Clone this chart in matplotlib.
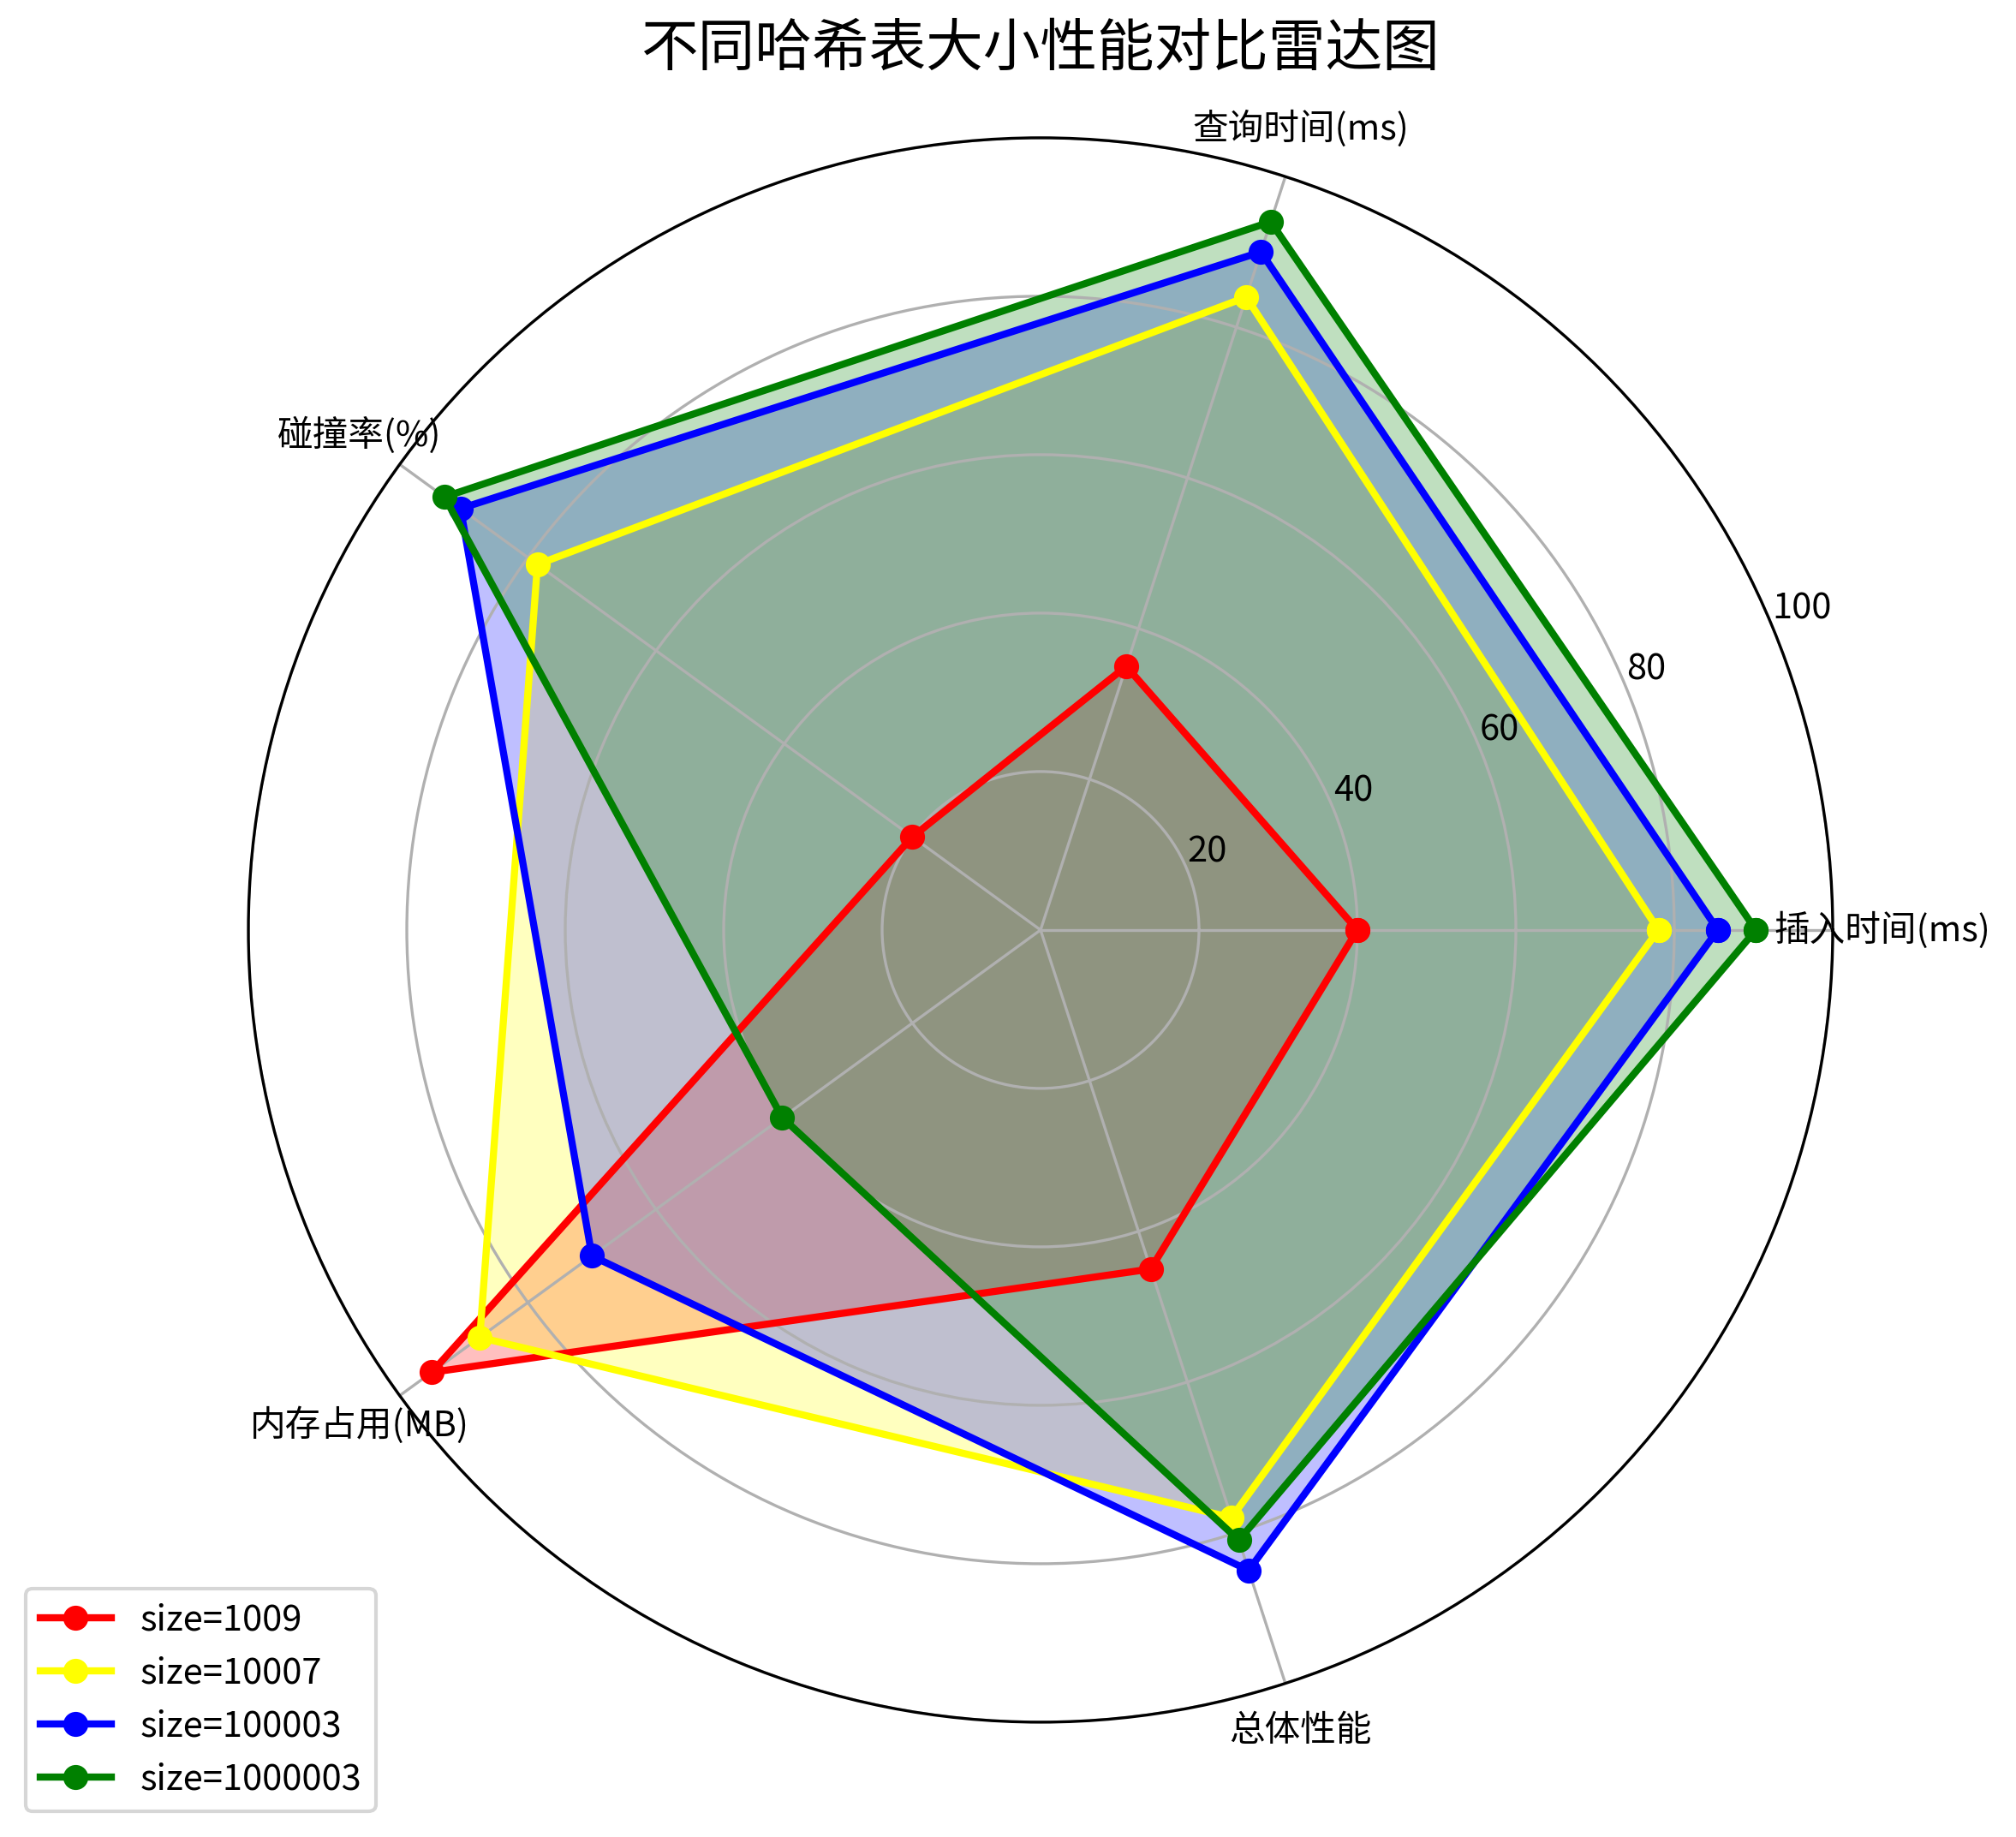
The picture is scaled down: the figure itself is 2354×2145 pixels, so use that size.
import numpy as np
import matplotlib
matplotlib.use("Agg")
import matplotlib.pyplot as plt

plt.rcParams["font.family"] = ["Noto Sans CJK SC", "DejaVu Sans"]

# metrics shown on the radar axes
categories = ["插入时间(ms)", "查询时间(ms)", "碰撞率(%)", "内存占用(MB)", "总体性能"]

# normalised scores per table size
size_labels = ["size=1009", "size=10007", "size=100003", "size=1000003"]
scores_1009 = [40, 35, 20, 95, 45]
scores_10007 = [78, 84, 78.5, 87.5, 78]
scores_100003 = [85.5, 90, 90.5, 70, 85]
scores_1000003 = [90.3, 94, 93, 40.3, 81]
series_colors = ["red", "yellow", "blue", "green"]

r_ticks = [20, 40, 60, 80, 100]


def main():
    all_scores = [scores_1009, scores_10007, scores_100003, scores_1000003]

    n = len(categories)
    angles = np.linspace(0, 2 * np.pi, n, endpoint=False).tolist()
    angles += angles[:1]

    fig = plt.figure(figsize=(2354 / 300, 2145 / 300), dpi=300)
    ax = fig.add_axes([0.1232, 0.0625, 0.7859, 0.8625], polar=True)

    for label, vals, col in zip(size_labels, all_scores, series_colors):
        vals = list(vals) + vals[:1]
        ax.plot(angles, vals, "o-", color=col, linewidth=2, label=label)
        ax.fill(angles, vals, color=col, alpha=0.25)

    ax.set_xticks(angles[:-1])
    ax.set_xticklabels(categories, fontsize=10)
    ax.set_ylim(0, 100)
    ax.set_yticks(r_ticks)
    ax.set_yticklabels([str(t) for t in r_ticks], fontsize=10)

    ax.legend(loc="lower left", bbox_to_anchor=(0.0127, 0.014),
              bbox_transform=fig.transFigure, borderaxespad=0, fontsize=10)

    fig.suptitle("不同哈希表大小性能对比雷达图", fontsize=16,
                 x=0.516, y=1 - 58 / 2145, va="center")

    fig.savefig("out.png", dpi=300)


if __name__ == "__main__":
    main()
